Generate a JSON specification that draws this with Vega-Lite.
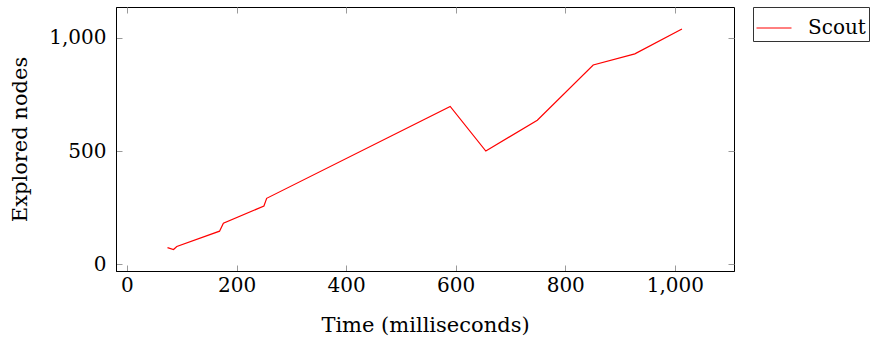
{
  "$schema": "https://vega.github.io/schema/vega-lite/v6.json",
  "width": 618,
  "height": 264,
  "autosize": {"type": "none"},
  "padding": {"left": 116, "top": 7, "right": 142, "bottom": 74},
  "background": "white",
  "config": {
    "font": "DejaVu Serif",
    "view": {"stroke": "black", "strokeWidth": 1},
    "axis": {
      "grid": false,
      "domainColor": "black",
      "domainWidth": 1,
      "tickColor": "#9a9a9a",
      "tickSize": -6,
      "tickWidth": 1,
      "labelFont": "DejaVu Serif",
      "titleFont": "DejaVu Serif",
      "labelFontSize": 20,
      "titleFontSize": 21,
      "labelColor": "black",
      "titleColor": "black",
      "titleFontWeight": "normal"
    }
  },
  "data": {
    "values": [
      {"t": 74, "n": 73, "s": "Scout"},
      {"t": 85, "n": 65, "s": "Scout"},
      {"t": 91, "n": 78, "s": "Scout"},
      {"t": 169, "n": 146, "s": "Scout"},
      {"t": 176, "n": 181, "s": "Scout"},
      {"t": 250, "n": 257, "s": "Scout"},
      {"t": 255, "n": 291, "s": "Scout"},
      {"t": 590, "n": 697, "s": "Scout"},
      {"t": 655, "n": 500, "s": "Scout"},
      {"t": 749, "n": 636, "s": "Scout"},
      {"t": 851, "n": 880, "s": "Scout"},
      {"t": 927, "n": 929, "s": "Scout"},
      {"t": 1013, "n": 1039, "s": "Scout"}
    ]
  },
  "layer": [
    {
      "mark": {"type": "line", "strokeWidth": 1.2, "clip": true},
      "encoding": {
        "x": {
          "field": "t", "type": "quantitative",
          "scale": {"domain": [-20, 1108], "nice": false, "zero": false},
          "axis": {"values": [0, 200, 400, 600, 800, 1000], "title": "Time (milliseconds)", "labelPadding": 10, "titlePadding": 19, "format": ",d"}
        },
        "y": {
          "field": "n", "type": "quantitative",
          "scale": {"domain": [-30, 1136], "nice": false, "zero": false},
          "axis": {"values": [0, 500, 1000], "title": "Explored nodes", "labelPadding": 16, "titlePadding": 18, "format": ",d"}
        },
        "color": {
          "field": "s", "type": "nominal",
          "scale": {"range": ["#ff0000"]},
          "legend": {
            "title": null,
            "orient": "none",
            "legendX": 637,
            "legendY": 0,
            "symbolType": "stroke",
            "symbolSize": 1225,
            "symbolStrokeWidth": 1,
            "labelFontSize": 20,
            "labelFont": "DejaVu Serif",
            "labelColor": "black",
            "strokeColor": "#333333",
            "padding": 3,
            "labelOffset": 16,
            "fillColor": "white"
          }
        }
      }
    },
    {
      "mark": {"type": "line", "opacity": 0},
      "encoding": {
        "x": {"field": "t", "type": "quantitative", "axis": {"orient": "top", "values": [0, 200, 400, 600, 800, 1000], "labels": false, "title": null, "domain": false}},
        "y": {"field": "n", "type": "quantitative", "axis": {"orient": "right", "values": [0, 500, 1000], "labels": false, "title": null, "domain": false}}
      }
    }
  ],
  "resolve": {"axis": {"x": "independent", "y": "independent"}}
}
